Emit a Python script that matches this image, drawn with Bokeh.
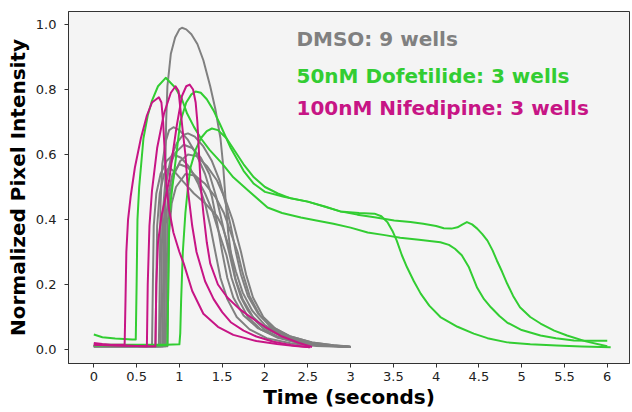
from bokeh.plotting import figure
from bokeh.models import Range1d, FixedTicker, NumeralTickFormatter, Label
from bokeh.embed import file_html
from bokeh.resources import INLINE

# ---------------- data (time in seconds, normalized intensity) ----------------
x_ticks = [0, 0.5, 1, 1.5, 2, 2.5, 3, 3.5, 4, 4.5, 5, 5.5, 6]
y_ticks = [0.0, 0.2, 0.4, 0.6, 0.8, 1.0]

legend_labels = ["DMSO: 9 wells", "50nM Dofetilide: 3 wells", "100nM Nifedipine: 3 wells"]

dmso_t = [
    [0, 0.4, 0.8, 0.82, 0.83, 0.835, 0.845, 0.86, 0.9, 0.95, 1.0, 1.03, 1.08, 1.14, 1.21, 1.28, 1.36, 1.42, 1.48, 1.51, 1.54, 1.57, 1.61, 1.66, 1.72, 1.8, 1.9, 2.0, 2.15, 2.3, 2.5, 2.75, 3.0],
    [0, 0.4, 0.76, 0.77, 0.78, 0.8, 0.84, 0.88, 0.93, 1.0, 1.1, 1.2, 1.3, 1.38, 1.44, 1.5, 1.56, 1.63, 1.75, 1.92, 2.15, 2.4, 2.7, 3.0],
    [0, 0.4, 0.8, 0.81, 0.82, 0.85, 0.9, 0.97, 1.04, 1.1, 1.18, 1.28, 1.38, 1.47, 1.54, 1.6, 1.66, 1.72, 1.8, 1.92, 2.08, 2.3, 2.55, 2.8, 3.0],
    [0, 0.4, 0.78, 0.79, 0.8, 0.83, 0.88, 0.95, 1.05, 1.15, 1.25, 1.35, 1.43, 1.5, 1.58, 1.65, 1.74, 1.86, 2.02, 2.25, 2.5, 2.75, 3.0],
    [0, 0.4, 0.84, 0.85, 0.86, 0.89, 0.94, 1.01, 1.1, 1.2, 1.32, 1.44, 1.54, 1.62, 1.67, 1.72, 1.78, 1.86, 1.98, 2.12, 2.3, 2.55, 2.8, 3.0],
    [0, 0.4, 0.72, 0.73, 0.74, 0.77, 0.82, 0.88, 0.95, 1.05, 1.17, 1.3, 1.44, 1.5, 1.55, 1.6, 1.66, 1.74, 1.85, 2.0, 2.2, 2.45, 2.7, 3.0],
    [0, 0.4, 0.82, 0.83, 0.84, 0.87, 0.92, 1.0, 1.1, 1.2, 1.3, 1.38, 1.45, 1.5, 1.55, 1.61, 1.69, 1.8, 1.95, 2.15, 2.4, 2.7, 3.0],
    [0, 0.4, 0.86, 0.87, 0.88, 0.91, 0.96, 1.07, 1.18, 1.3, 1.42, 1.52, 1.6, 1.68, 1.74, 1.82, 1.94, 2.08, 2.28, 2.5, 2.75, 3.0],
    [0, 0.4, 0.68, 0.69, 0.7, 0.73, 0.78, 0.85, 0.93, 1.02, 1.12, 1.22, 1.3, 1.36, 1.42, 1.48, 1.56, 1.67, 1.82, 2.02, 2.3, 2.6, 3.0],
]
dmso_v = [
    [0.01, 0.01, 0.01, 0.012, 0.3, 0.55, 0.7, 0.81, 0.91, 0.96, 0.985, 0.99, 0.985, 0.97, 0.94, 0.89, 0.81, 0.74, 0.65, 0.57, 0.46, 0.36, 0.28, 0.21, 0.16, 0.12, 0.085, 0.06, 0.04, 0.026, 0.018, 0.011, 0.008],
    [0.01, 0.01, 0.01, 0.2, 0.45, 0.57, 0.64, 0.675, 0.684, 0.675, 0.645, 0.6, 0.54, 0.47, 0.39, 0.3, 0.22, 0.16, 0.105, 0.065, 0.038, 0.022, 0.013, 0.008],
    [0.01, 0.01, 0.01, 0.2, 0.4, 0.52, 0.59, 0.635, 0.66, 0.665, 0.655, 0.625, 0.58, 0.52, 0.45, 0.38, 0.3, 0.23, 0.165, 0.11, 0.07, 0.04, 0.022, 0.013, 0.008],
    [0.01, 0.01, 0.01, 0.2, 0.4, 0.5, 0.56, 0.605, 0.63, 0.62, 0.59, 0.54, 0.47, 0.39, 0.3, 0.22, 0.155, 0.1, 0.062, 0.035, 0.02, 0.012, 0.008],
    [0.01, 0.01, 0.01, 0.2, 0.38, 0.48, 0.54, 0.58, 0.6, 0.595, 0.565, 0.52, 0.46, 0.4, 0.35, 0.3, 0.23, 0.16, 0.1, 0.065, 0.04, 0.022, 0.013, 0.009],
    [0.01, 0.01, 0.01, 0.2, 0.38, 0.48, 0.54, 0.56, 0.545, 0.515, 0.48, 0.45, 0.41, 0.38, 0.34, 0.3, 0.24, 0.175, 0.12, 0.075, 0.043, 0.024, 0.014, 0.008],
    [0.01, 0.01, 0.01, 0.2, 0.38, 0.48, 0.54, 0.57, 0.56, 0.53, 0.48, 0.43, 0.37, 0.33, 0.29, 0.22, 0.155, 0.1, 0.062, 0.036, 0.02, 0.012, 0.008],
    [0.01, 0.01, 0.01, 0.2, 0.36, 0.45, 0.5, 0.54, 0.535, 0.51, 0.47, 0.42, 0.36, 0.3, 0.235, 0.165, 0.105, 0.065, 0.037, 0.021, 0.012, 0.008],
    [0.01, 0.01, 0.01, 0.2, 0.38, 0.48, 0.54, 0.58, 0.6, 0.59, 0.56, 0.51, 0.45, 0.38, 0.3, 0.22, 0.155, 0.1, 0.062, 0.035, 0.019, 0.011, 0.008],
]

dofetilide_t = [
    [0, 0.1, 0.25, 0.45, 0.49, 0.5, 0.51, 0.53, 0.58, 0.63, 0.68, 0.75, 0.84, 0.95, 1.03, 1.09, 1.17, 1.25, 1.35, 1.5, 1.63, 1.8, 2.03, 2.2, 2.42, 2.6, 2.8, 3.0, 3.2, 3.4, 3.58, 3.8, 4.05, 4.15, 4.22, 4.3, 4.38, 4.48, 4.56, 4.64, 4.74, 4.83, 5.0, 5.22, 5.4, 5.61, 5.8, 6.0],
    [0, 0.3, 0.6, 0.86, 0.87, 0.88, 0.9, 0.95, 1.01, 1.08, 1.14, 1.19, 1.25, 1.32, 1.4, 1.48, 1.6, 1.75, 1.87, 2.0, 2.22, 2.5, 2.88, 3.1, 3.28, 3.36, 3.43, 3.49, 3.54, 3.6, 3.66, 3.74, 3.82, 3.92, 4.05, 4.25, 4.44, 4.6, 4.83, 5.1, 5.41, 5.7, 6.04],
    [0, 0.3, 0.6, 0.85, 1.0, 1.01, 1.02, 1.04, 1.07, 1.1, 1.13, 1.19, 1.25, 1.32, 1.38, 1.45, 1.55, 1.65, 1.75, 1.87, 2.0, 2.15, 2.3, 2.5, 2.7, 2.88, 3.08, 3.28, 3.51, 3.7, 3.85, 4.0, 4.09, 4.18, 4.25, 4.31, 4.36, 4.42, 4.48, 4.54, 4.6, 4.66, 4.71, 4.77, 4.83, 4.9, 4.98, 5.1, 5.22, 5.38, 5.53, 5.75, 6.0],
]
dofetilide_v = [
    [0.046, 0.038, 0.034, 0.031, 0.031, 0.2, 0.4, 0.5, 0.65, 0.72, 0.766, 0.81, 0.836, 0.806, 0.77, 0.726, 0.685, 0.65, 0.615, 0.572, 0.53, 0.49, 0.437, 0.42, 0.406, 0.397, 0.387, 0.375, 0.36, 0.352, 0.344, 0.338, 0.33, 0.322, 0.31, 0.29, 0.255, 0.19, 0.155, 0.13, 0.103, 0.083, 0.06, 0.043, 0.035, 0.028, 0.027, 0.027],
    [0.012, 0.012, 0.012, 0.013, 0.2, 0.38, 0.46, 0.57, 0.7, 0.76, 0.785, 0.794, 0.79, 0.77, 0.735, 0.69, 0.62, 0.55, 0.51, 0.485, 0.47, 0.455, 0.425, 0.42, 0.418, 0.41, 0.392, 0.365, 0.335, 0.29, 0.253, 0.21, 0.172, 0.135, 0.1, 0.07, 0.049, 0.035, 0.022, 0.016, 0.012, 0.009, 0.007],
    [0.015, 0.015, 0.015, 0.015, 0.016, 0.05, 0.15, 0.3, 0.42, 0.5, 0.56, 0.615, 0.65, 0.672, 0.68, 0.675, 0.65, 0.61, 0.57, 0.53, 0.5, 0.48, 0.465, 0.455, 0.44, 0.425, 0.415, 0.407, 0.397, 0.392, 0.387, 0.38, 0.373, 0.372, 0.376, 0.385, 0.392, 0.385, 0.372, 0.355, 0.335, 0.305, 0.274, 0.24, 0.203, 0.165, 0.13, 0.1, 0.08, 0.058, 0.043, 0.025, 0.01],
]

nifedipine_t = [
    [0, 0.1, 0.2, 0.36, 0.37, 0.38, 0.4, 0.43, 0.48, 0.55, 0.62, 0.68, 0.76, 0.79, 0.81, 0.83, 0.85, 0.88, 0.93, 1.0, 1.05, 1.15, 1.28, 1.45, 1.63, 1.9, 2.14, 2.35, 2.53],
    [0, 0.3, 0.61, 0.62, 0.63, 0.65, 0.68, 0.74, 0.82, 0.9, 0.955, 0.99, 1.01, 1.04, 1.07, 1.1, 1.15, 1.2, 1.3, 1.4, 1.5, 1.6, 1.75, 1.9, 2.1, 2.3, 2.52],
    [0, 0.3, 0.6, 0.72, 0.73, 0.75, 0.79, 0.84, 0.88, 0.92, 0.97, 1.03, 1.08, 1.12, 1.16, 1.19, 1.21, 1.23, 1.25, 1.28, 1.32, 1.36, 1.45, 1.56, 1.7, 1.83, 2.0, 2.2, 2.4, 2.55],
]
nifedipine_v = [
    [0.02, 0.017, 0.015, 0.015, 0.15, 0.3, 0.4, 0.47, 0.56, 0.65, 0.72, 0.76, 0.776, 0.76, 0.7, 0.6, 0.5, 0.43, 0.36, 0.3, 0.265, 0.18, 0.11, 0.07, 0.045, 0.026, 0.017, 0.011, 0.007],
    [0.015, 0.012, 0.01, 0.01, 0.2, 0.38, 0.49, 0.62, 0.726, 0.79, 0.81, 0.795, 0.745, 0.67, 0.6, 0.49, 0.38, 0.3, 0.21, 0.155, 0.115, 0.084, 0.058, 0.04, 0.024, 0.014, 0.007],
    [0.015, 0.012, 0.01, 0.01, 0.2, 0.33, 0.41, 0.47, 0.52, 0.6, 0.69, 0.78, 0.81, 0.815, 0.8, 0.76, 0.7, 0.6, 0.5, 0.42, 0.33, 0.265, 0.2, 0.16, 0.125, 0.1, 0.07, 0.04, 0.02, 0.008],
]

# ---------------- styling ----------------
GRAY = "#808080"
GREEN = "#32CD32"
MAGENTA = "#C71585"
FONT = "DejaVu Sans"

p = figure(width=632, height=412, x_range=Range1d(-0.296, 6.26), y_range=Range1d(-0.043, 1.04),
           output_backend="svg", toolbar_location=None,
           min_border_left=68, min_border_right=3, min_border_top=11, min_border_bottom=49)

p.background_fill_color = "#f4f4f4"
p.border_fill_color = "white"
p.outline_line_color = "#333333"
p.outline_line_width = 1
p.grid.visible = False

p.multi_line(dmso_t, dmso_v, line_color=GRAY, line_width=2, line_join="round")
p.multi_line(dofetilide_t, dofetilide_v, line_color=GREEN, line_width=2, line_join="round")
p.multi_line(nifedipine_t, nifedipine_v, line_color=MAGENTA, line_width=2, line_join="round")

for ax in (p.xaxis[0], p.yaxis[0]):
    ax.major_tick_out = 4
    ax.major_tick_in = 0
    ax.minor_tick_line_color = None
    ax.axis_line_color = "#333333"
    ax.major_tick_line_color = "#333333"
    ax.major_label_text_font = FONT
    ax.major_label_text_font_size = "13px"
    ax.major_label_text_color = "#222222"
    ax.axis_label_text_font = FONT
    ax.axis_label_text_font_size = "20px"
    ax.axis_label_text_font_style = "bold"
    ax.axis_label_text_color = "black"

p.xaxis.ticker = FixedTicker(ticks=x_ticks)
p.xaxis.formatter = NumeralTickFormatter(format="0.[0]")
p.xaxis.axis_label = "Time (seconds)"
p.xaxis.major_label_standoff = 4
p.xaxis.axis_label_standoff = 1

p.yaxis.ticker = FixedTicker(ticks=y_ticks)
p.yaxis.formatter = NumeralTickFormatter(format="0.0")
p.yaxis.axis_label = "Normalized Pixel Intensity"
p.yaxis.major_label_standoff = 8
p.yaxis.axis_label_standoff = 3

legend_colors = [GRAY, GREEN, MAGENTA]
legend_y = [0.954, 0.843, 0.742]
for txt, col, yy in zip(legend_labels, legend_colors, legend_y):
    p.add_layout(Label(x=2.368, y=yy, text=txt, text_color=col, text_font=FONT,
                       text_font_size="20px", text_font_style="bold", text_baseline="middle"))

open("out.html", "w").write(file_html(p, INLINE))
